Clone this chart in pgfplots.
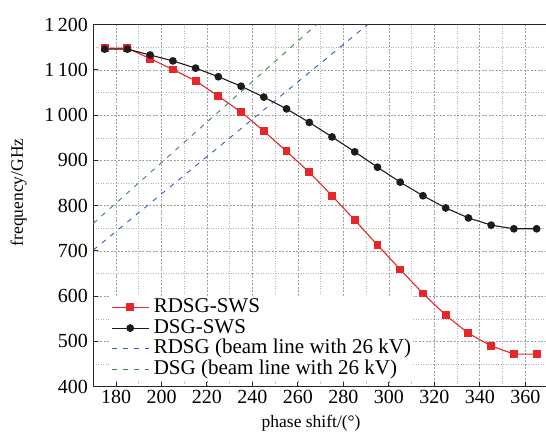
\documentclass[border=0pt]{standalone}
\usepackage{fontspec}
\setmainfont{Liberation Serif}
\usepackage{pgfplots}
\pgfplotsset{compat=1.18}

\definecolor{rdsgred}{RGB}{232,38,42}
\definecolor{dsgblack}{RGB}{28,28,28}
\definecolor{beamblue}{RGB}{45,95,190}
\definecolor{beamgreen}{RGB}{55,140,65}

\begin{document}
\begin{tikzpicture}
\useasboundingbox (-93.3pt,-54pt) rectangle (452.7pt,386.7pt);
\begin{axis}[
  at={(0pt,0pt)}, anchor=south west,
  scale only axis, width=454.7pt, height=362pt,
  xmin=170, xmax=370, ymin=400, ymax=1200,
  xtick={180,200,...,360}, ytick={400,500,...,1200},
  minor xtick={190,210,...,370}, minor ytick={450,550,...,1150},
  grid=both,
  major grid style={gray!75, dash pattern=on 2pt off 1.5pt, line width=0.6pt},
  minor grid style={gray!60, dash pattern=on 1pt off 1.5pt, line width=0.6pt},
  tick align=inside, xtick pos=bottom, ytick pos=left,
  major tick length=5pt, minor tick length=0pt,
  axis line style={line width=1.2pt, black!85},
  tick style={line width=1pt, black!85},
  font=\fontsize{20}{24}\selectfont,
  yticklabel style={xshift=-2pt},
  /pgf/number format/assume math mode=true,
  /pgf/number format/1000 sep={\,},
  xlabel={phase shift/(°)},
  ylabel={frequency/GHz},
  xlabel style={font=\fontsize{17.5}{20}\selectfont,
    at={(axis description cs:0.479,-0.102)}, anchor=center},
  ylabel style={font=\fontsize{17.5}{20}\selectfont,
    at={(axis description cs:-0.1645,0.537)}, anchor=center},
  legend cell align=left,
  legend style={at={(axis description cs:0.0367,0.251)}, anchor=north west,
    draw=none, fill=white, inner sep=1pt, row sep=0pt,
    font=\fontsize{21}{21}\selectfont,
    nodes={inner sep=1pt, text height=14.5pt, text depth=4.2pt}},
  legend image code/.code={\draw[mark repeat=2, mark phase=2, #1]
    plot coordinates {(0pt,0pt) (18.5pt,0pt) (37pt,0pt)};
    \path (40.5pt,0pt);},
]
% RDSG-SWS
\addplot[color=rdsgred, line width=1.1pt, mark=square*, mark size=3.4pt] coordinates {
  (175,1148) (185,1148) (195,1125) (205,1101) (215,1076) (225,1042) (235,1007)
  (245,965) (255,920) (265,874) (275,822) (285,768) (295,713) (305,659)
  (315,606) (325,558) (335,518) (345,490) (355,472) (365,472)
};
\addlegendentry{RDSG-SWS}
% DSG-SWS
\addplot[color=dsgblack, line width=1.1pt, mark=*, mark size=3.3pt] coordinates {
  (175,1146) (185,1146) (195,1133) (205,1120) (215,1104) (225,1085) (235,1064)
  (245,1040) (255,1014) (265,984) (275,952) (285,919) (295,885) (305,852)
  (315,822) (325,795) (335,773) (345,757) (355,749) (365,749)
};
\addlegendentry{DSG-SWS}
% beam lines
\addplot[color=beamblue, line width=0.9pt, dash pattern=on 5pt off 6pt] coordinates {
  (170,702) (290.6,1200)
};
\addlegendentry{RDSG (beam line with 26 kV)}
\addplot[color=beamgreen, line width=0.9pt, dash pattern=on 5pt off 6pt] coordinates {
  (170,761) (268.1,1200)
};
\addlegendentry{DSG (beam line with 26 kV)}
\end{axis}
\end{tikzpicture}
\end{document}
